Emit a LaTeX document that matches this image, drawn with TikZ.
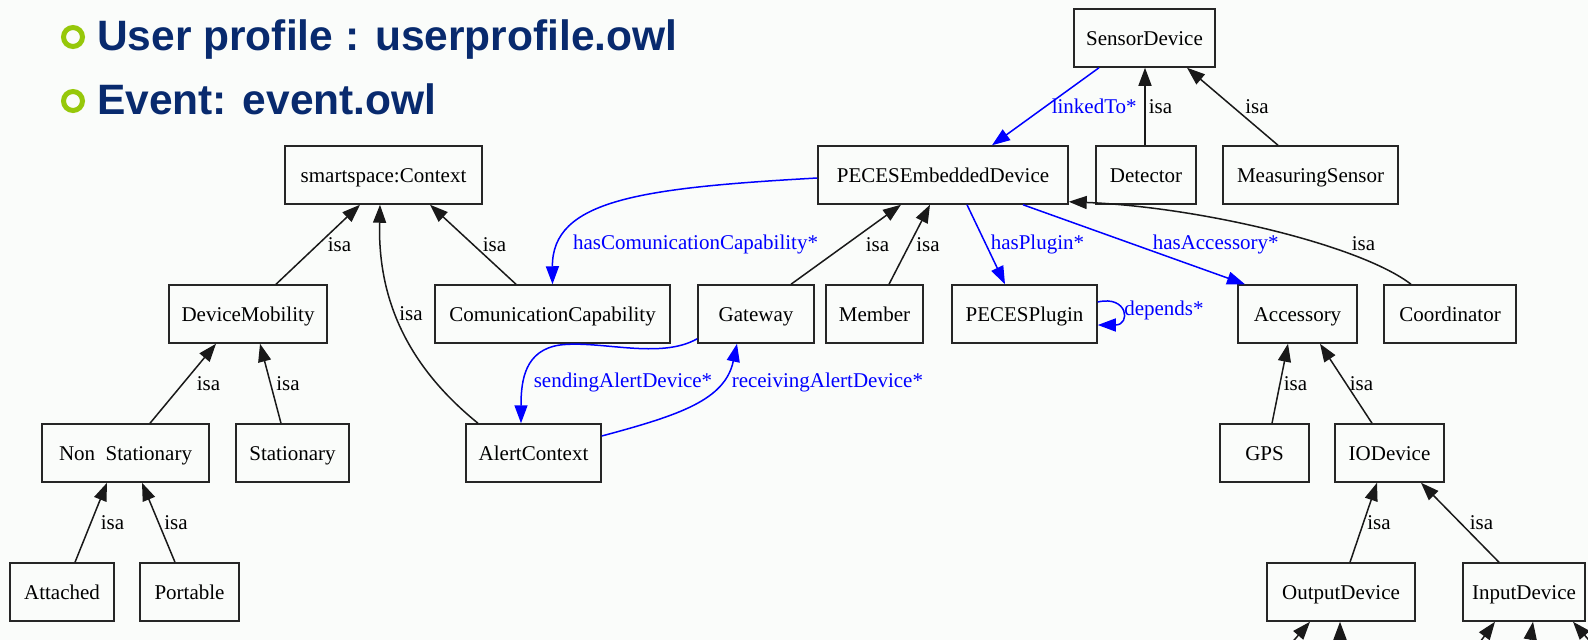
\documentclass[tikz,border=0pt]{standalone}
\usepackage{fontspec}
\setmainfont{Liberation Serif}
\newfontfamily\headfont{Liberation Sans}
\usetikzlibrary{arrows.meta,calc}
\definecolor{paper}{RGB}{250,252,250}
\definecolor{headblue}{RGB}{8,42,110}
\definecolor{bulletgreen}{RGB}{150,200,10}
\definecolor{relblue}{RGB}{0,0,255}
\tikzset{
  cls/.style={draw=black!85, line width=1.5pt, minimum height=58pt, inner sep=0pt,
    text height=14pt, text depth=0pt, font=\fontsize{21pt}{21pt}\selectfont},
  headtip/.style={-{Triangle[length=18pt,width=13pt]}},
  isa/.style={draw=black!90, line width=1.5pt, headtip},
  rel/.style={draw=relblue, line width=1.5pt, headtip},
  isalbl/.style={font=\fontsize{21pt}{21pt}\selectfont, inner sep=0pt, text=black},
  rellbl/.style={font=\fontsize{21pt}{21pt}\selectfont, inner sep=0pt, text=relblue},
  headline/.style={font=\headfont\bfseries\fontsize{42.5pt}{42.5pt}\selectfont, text=headblue,
    inner sep=0pt, anchor=base west},
  bulletring/.style={circle, draw=bulletgreen, line width=5pt, minimum size=19pt, inner sep=0pt},
}
\begin{document}
\begin{tikzpicture}[x=1pt,y=-1pt]
\fill[paper] (0,0) rectangle (1588,640);
\useasboundingbox (0,0) rectangle (1588,640);
\clip (0,0) rectangle (1588,640);

% heading lines
\node[bulletring] (b1) at (73,37) {};
\node[headline] (h1) at (97,50) {User profile : userprofile.owl};
\node[bulletring] (b2) at (73,101) {};
\node[headline] (h2) at (97,114) {Event: event.owl};

% row 1
\node[cls, minimum width=141pt] (sd) at (1144.5,38) {SensorDevice};
% row 2
\node[cls, minimum width=197pt] (ctx) at (383.5,175) {smartspace:Context};
\node[cls, minimum width=250pt] (pe) at (943,175) {PECESEmbeddedDevice};
\node[cls, minimum width=100pt] (de) at (1146,175) {Detector};
\node[cls, minimum width=175pt] (ms) at (1310.5,175) {MeasuringSensor};
% row 3
\node[cls, minimum width=158pt] (dm) at (248,314) {DeviceMobility};
\node[cls, minimum width=235pt] (cc) at (552.5,314) {ComunicationCapability};
\node[cls, minimum width=116pt] (gw) at (756,314) {Gateway};
\node[cls, minimum width=97pt] (me) at (874.5,314) {Member};
\node[cls, minimum width=145pt] (pp) at (1024.5,314) {PECESPlugin};
\node[cls, minimum width=119pt] (acc) at (1297.5,314) {Accessory};
\node[cls, minimum width=132pt] (co) at (1450,314) {Coordinator};
% row 4
\node[cls, minimum width=167pt] (ns) at (125.5,453) {Non\ \ Stationary};
\node[cls, minimum width=113pt] (st) at (292.5,453) {Stationary};
\node[cls, minimum width=135pt] (ac) at (533.5,453) {AlertContext};
\node[cls, minimum width=89pt] (gps) at (1264.5,453) {GPS};
\node[cls, minimum width=109pt] (io) at (1389.5,453) {IODevice};
% row 5
\node[cls, minimum width=104pt] (at) at (62,592) {Attached};
\node[cls, minimum width=99pt] (po) at (189.5,592) {Portable};
\node[cls, minimum width=148pt] (od) at (1341,592) {OutputDevice};
\node[cls, minimum width=122pt] (in) at (1524,592) {InputDevice};

% subclass links
\draw[isa] ([xshift=28pt]dm.north) -- node[isalbl, right=9pt] {isa} ([xshift=-23.5pt]ctx.south);
\draw[isa] ([xshift=-36.5pt]cc.north) -- node[isalbl, right=9pt] {isa} ([xshift=46.5pt]ctx.south);
\draw[isa] ([xshift=-55.5pt]ac.north) .. controls (400,360) and (378,290) ..
  node[isalbl, pos=0.54, right=3pt] {isa} ([xshift=-3.5pt]ctx.south);
\draw[isa] ([xshift=24.5pt]ns.north) -- node[isalbl, right=13pt] {isa} ([xshift=-32pt]dm.south);
\draw[isa] ([xshift=-11.5pt]st.north) -- node[isalbl, right=5pt] {isa} ([xshift=12pt]dm.south);
\draw[isa] ([xshift=13pt]at.north) -- node[isalbl, right=9pt] {isa} ([xshift=-18.5pt]ns.south);
\draw[isa] ([xshift=-14.5pt]po.north) -- node[isalbl, right=5pt] {isa} ([xshift=16.5pt]ns.south);
\draw[isa] ([xshift=35pt]gw.north) -- node[isalbl, right=19pt] {isa} ([xshift=-42pt]pe.south);
\draw[isa] ([xshift=14.5pt]me.north) -- node[isalbl, right=6pt] {isa} ([xshift=-13pt]pe.south);
\draw[isa] ([xshift=-39pt]co.north) .. controls (1360,245) and (1200,207) ..
  node[isalbl, pos=0.2, shift={(-5,-17)}] {isa} ([yshift=3pt]pe.south east);
\draw[isa] ([xshift=-1pt]de.north) -- node[isalbl, right=3pt] {isa} ([xshift=0.5pt]sd.south);
\draw[isa] ([xshift=-32.5pt]ms.north) -- node[isalbl, right=12pt] {isa} ([xshift=42.5pt]sd.south);
\draw[isa] ([xshift=7.5pt]gps.north) -- node[isalbl, right=3pt] {isa} ([xshift=-9.5pt]acc.south);
\draw[isa] ([xshift=-17.5pt]io.north) -- node[isalbl, right=3pt] {isa} ([xshift=22.5pt]acc.south);
\draw[isa] ([xshift=9pt]od.north) -- node[isalbl, right=3pt] {isa} ([xshift=-12.5pt]io.south);
\draw[isa] ([xshift=-25pt]in.north) -- node[isalbl, right=9pt] {isa} ([xshift=31.5pt]io.south);

% links entering from below the frame
\coordinate (odA) at (1276,661);
\coordinate (odB) at (1340,661);
\coordinate (inA) at (1466,661);
\coordinate (inB) at (1527,661);
\coordinate (inC) at (1607,661);
\draw[isa] (odA) -- ([xshift=-31pt]od.south);
\draw[isa] (odB) -- ([xshift=-1pt]od.south);
\draw[isa] (inA) -- ([xshift=-29pt]in.south);
\draw[isa] (inB) -- ([xshift=9pt]in.south);
\draw[isa] (inC) -- ([xshift=49pt]in.south);

% object properties
\draw[rel] ([xshift=-45.5pt]sd.south) -- node[rellbl, right=5.5pt] {linkedTo*} ([xshift=49pt]pe.north);
\draw[rel] ([yshift=-3pt]pe.west) .. controls (640,188) and (552,200) ..
  node[rellbl, pos=1, shift={(143,-40)}] {hasComunicationCapability*} (cc.north);
\draw[rel] ([xshift=24pt]pe.south) -- node[rellbl, right=4pt] {hasPlugin*} ([xshift=-19.5pt]pp.north);
\draw[rel] ([xshift=80pt]pe.south) -- node[rellbl, right=18pt] {hasAccessory*} ([xshift=-52.5pt]acc.north);
\draw[rel] ([yshift=12pt]pp.east) .. controls (1128,295) and (1131,325) ..
  node[rellbl, pos=0.5, anchor=west, xshift=2pt] {depends*} ([yshift=-11pt]pp.east);
\draw[rel] ([yshift=5pt]gw.south west) .. controls (660,360) and (600,340) .. (560,345)
  .. controls (525,350) and (521,380) ..
  node[rellbl, pos=1, shift={(102,-41)}] {sendingAlertDevice*} ([xshift=-12.5pt]ac.north);
\draw[rel] ([yshift=17pt]ac.east) .. controls (680,415) and (725,400) ..
  node[rellbl, pos=1, anchor=west, shift={(-6,39)}] {receivingAlertDevice*} ([xshift=-19pt]gw.south);
\end{tikzpicture}
\end{document}
